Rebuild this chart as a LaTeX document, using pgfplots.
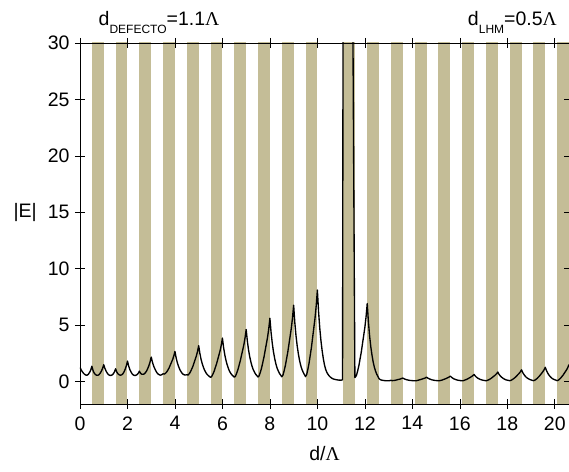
\documentclass[border=0pt]{standalone}
\usepackage{fontspec}
\setmainfont{Liberation Sans}
\newfontfamily\lgreek{Liberation Serif}
\usepackage{pgfplots}
\pgfplotsset{compat=1.18}
\definecolor{tanc}{HTML}{C4BD97}
\newcommand\bigf{\fontsize{19.5}{23}\selectfont}
\pgfplotstableread{
x y
0 1.25
0.05 1.02
0.1 0.86
0.15 0.72
0.2 0.62
0.25 0.56
0.3 0.56
0.35 0.63
0.4 0.79
0.45 0.99
0.5 1.35
0.55 0.96
0.6 0.74
0.65 0.61
0.7 0.55
0.75 0.55
0.8 0.60
0.85 0.73
0.9 0.91
0.95 1.15
1.0 1.48
1.05 1.15
1.1 0.91
1.15 0.73
1.2 0.60
1.25 0.54
1.3 0.53
1.35 0.57
1.4 0.67
1.45 0.84
1.5 1.12
1.55 0.84
1.6 0.67
1.65 0.59
1.7 0.55
1.75 0.58
1.8 0.66
1.85 0.83
1.9 1.06
1.95 1.37
2.0 1.8
2.05 1.37
2.1 1.06
2.15 0.83
2.2 0.66
2.25 0.57
2.3 0.53
2.35 0.54
2.4 0.60
2.45 0.71
2.5 0.91
2.55 0.73
2.6 0.64
2.65 0.63
2.7 0.66
2.75 0.76
2.8 0.91
2.85 1.13
2.9 1.38
2.95 1.72
3.0 2.16
3.05 1.72
3.1 1.38
3.15 1.13
3.2 0.91
3.25 0.75
3.3 0.64
3.35 0.58
3.4 0.56
3.45 0.60
3.5 0.68
3.55 0.65
3.6 0.72
3.65 0.83
3.7 1.0
3.75 1.19
3.8 1.43
3.85 1.68
3.9 1.93
3.95 2.25
4.0 2.66
4.05 2.09
4.1 1.67
4.15 1.34
4.2 1.08
4.25 0.88
4.3 0.73
4.35 0.63
4.4 0.58
4.45 0.57
4.5 0.60
4.55 0.56
4.6 0.68
4.65 0.84
4.7 1.07
4.75 1.31
4.8 1.62
4.85 1.94
4.9 2.25
4.95 2.65
5.0 3.17
5.05 2.48
5.1 1.96
5.15 1.56
5.2 1.25
5.25 0.99
5.3 0.79
5.35 0.64
5.4 0.53
5.45 0.44
5.5 0.36
5.55 0.44
5.6 0.65
5.65 0.90
5.7 1.22
5.75 1.54
5.8 1.93
5.85 2.32
5.9 2.71
5.95 3.20
6.0 3.84
6.05 2.99
6.1 2.35
6.15 1.86
6.2 1.47
6.25 1.15
6.3 0.90
6.35 0.72
6.4 0.58
6.45 0.48
6.5 0.37
6.55 0.47
6.6 0.73
6.65 1.03
6.7 1.42
6.75 1.81
6.8 2.28
6.85 2.75
6.9 3.22
6.95 3.83
7.0 4.6
7.05 3.57
7.1 2.79
7.15 2.19
7.2 1.72
7.25 1.33
7.3 1.03
7.35 0.82
7.4 0.64
7.45 0.52
7.5 0.39
7.55 0.51
7.6 0.83
7.65 1.20
7.7 1.68
7.75 2.16
7.8 2.74
7.85 3.32
7.9 3.90
7.95 4.65
8.0 5.6
8.05 4.33
8.1 3.37
8.15 2.63
8.2 2.05
8.25 1.57
8.3 1.20
8.35 0.94
8.4 0.72
8.45 0.57
8.5 0.41
8.55 0.56
8.6 0.95
8.65 1.40
8.7 1.98
8.75 2.56
8.8 3.27
8.85 3.98
8.9 4.69
8.95 5.59
9.0 6.75
9.05 5.20
9.1 4.04
9.15 3.14
9.2 2.43
9.25 1.85
9.3 1.40
9.35 1.07
9.4 0.82
9.45 0.62
9.5 0.43
9.55 0.61
9.6 1.08
9.65 1.63
9.7 2.33
9.75 3.03
9.8 3.89
9.85 4.75
9.9 5.60
9.95 6.70
10.0 8.1
10.05 6.18
10.1 4.74
10.15 3.62
10.2 2.74
10.25 2.02
10.3 1.46
10.35 1.06
10.4 0.80
10.45 0.62
10.5 0.48
10.55 0.38
10.6 0.30
10.65 0.24
10.7 0.20
10.8 0.15
10.9 0.12
11.0 0.11
11.06 0.15
11.1 60
11.2 80
11.3 90
11.4 80
11.5 30
11.58 0.35
11.6 0.38
11.65 0.56
11.7 0.96
11.75 1.42
11.8 2.02
11.85 2.61
11.9 3.34
11.95 4.06
12.0 4.79
12.05 5.71
12.1 6.9
12.15 5.27
12.2 4.04
12.25 3.09
12.3 2.34
12.35 1.73
12.4 1.26
12.45 0.92
12.5 0.64
12.55 0.44
12.6 0.24
12.65 0.16
12.7 0.12
12.8 0.08
12.9 0.06
13.0 0.06
13.05 0.07
13.1 0.10
13.15 0.07
13.2 0.08
13.25 0.09
13.3 0.11
13.35 0.14
13.4 0.17
13.45 0.19
13.5 0.22
13.55 0.26
13.6 0.30
13.65 0.24
13.7 0.195
13.75 0.16
13.8 0.13
13.85 0.11
13.9 0.09
13.95 0.08
14.0 0.07
14.05 0.06
14.1 0.055
14.15 0.06
14.2 0.08
14.25 0.11
14.3 0.14
14.35 0.17
14.4 0.20
14.45 0.24
14.5 0.27
14.55 0.32
14.6 0.38
14.65 0.30
14.7 0.24
14.75 0.20
14.8 0.16
14.85 0.13
14.9 0.11
14.95 0.09
15.0 0.08
15.05 0.07
15.1 0.06
15.15 0.07
15.2 0.09
15.25 0.12
15.3 0.16
15.35 0.20
15.4 0.24
15.45 0.29
15.5 0.34
15.55 0.39
15.6 0.47
15.65 0.37
15.7 0.29
15.75 0.23
15.8 0.19
15.85 0.15
15.9 0.12
15.95 0.10
16.0 0.08
16.05 0.07
16.1 0.06
16.15 0.07
16.2 0.11
16.25 0.15
16.3 0.20
16.35 0.25
16.4 0.31
16.45 0.37
16.5 0.44
16.55 0.52
16.6 0.62
16.65 0.48
16.7 0.38
16.75 0.30
16.8 0.24
16.85 0.19
16.9 0.15
16.95 0.12
17.0 0.10
17.05 0.08
17.1 0.06
17.15 0.08
17.2 0.13
17.25 0.18
17.3 0.25
17.35 0.32
17.4 0.41
17.45 0.49
17.5 0.58
17.55 0.69
17.6 0.83
17.65 0.64
17.7 0.50
17.75 0.39
17.8 0.31
17.85 0.24
17.9 0.18
17.95 0.14
18.0 0.11
18.05 0.09
18.1 0.07
18.15 0.09
18.2 0.15
18.25 0.22
18.3 0.30
18.35 0.39
18.4 0.50
18.45 0.61
18.5 0.72
18.55 0.85
18.6 1.03
18.65 0.79
18.7 0.62
18.75 0.48
18.8 0.37
18.85 0.29
18.9 0.22
18.95 0.17
19.0 0.13
19.05 0.10
19.1 0.07
19.15 0.10
19.2 0.17
19.25 0.25
19.3 0.36
19.35 0.47
19.4 0.60
19.45 0.73
19.5 0.87
19.55 1.03
19.6 1.25
19.65 0.96
19.7 0.75
19.75 0.58
19.8 0.45
19.85 0.34
19.9 0.25
19.95 0.19
20.0 0.15
20.05 0.11
20.1 0.07
20.15 0.11
20.2 0.20
20.25 0.30
20.3 0.43
20.35 0.56
20.4 0.72
20.45 0.88
20.5 1.04
20.55 1.24
20.6 1.5
}\fieldtable
\begin{document}
\begin{tikzpicture}
\begin{axis}[
  name=ax, at={(0,0)}, anchor=south west,
  scale only axis, width=489pt, height=361pt,
  xmin=0, xmax=20.6, ymin=-2, ymax=30,
  xtick={0,2,4,6,8,10,12,14,16,18,20},
  ytick={0,5,10,15,20,25,30},
  minor tick num=0,
  tick align=center,
  major tick length=10pt,
  tick style={black, line width=0.6pt},
  axis line style={black, line width=0.8pt},
  axis on top,
  /pgf/number format/assume math mode=true,
  ticklabel style={font=\bigf},
  xticklabel style={yshift=-4pt},
  yticklabel style={xshift=-2pt},
]
\addplot[draw=none, fill=tanc] coordinates {(0.5,-3) (1,-3) (1,31) (0.5,31)};
\addplot[draw=none, fill=tanc] coordinates {(1.5,-3) (2,-3) (2,31) (1.5,31)};
\addplot[draw=none, fill=tanc] coordinates {(2.5,-3) (3,-3) (3,31) (2.5,31)};
\addplot[draw=none, fill=tanc] coordinates {(3.5,-3) (4,-3) (4,31) (3.5,31)};
\addplot[draw=none, fill=tanc] coordinates {(4.5,-3) (5,-3) (5,31) (4.5,31)};
\addplot[draw=none, fill=tanc] coordinates {(5.5,-3) (6,-3) (6,31) (5.5,31)};
\addplot[draw=none, fill=tanc] coordinates {(6.5,-3) (7,-3) (7,31) (6.5,31)};
\addplot[draw=none, fill=tanc] coordinates {(7.5,-3) (8,-3) (8,31) (7.5,31)};
\addplot[draw=none, fill=tanc] coordinates {(8.5,-3) (9,-3) (9,31) (8.5,31)};
\addplot[draw=none, fill=tanc] coordinates {(9.5,-3) (10,-3) (10,31) (9.5,31)};
\addplot[draw=none, fill=tanc] coordinates {(11.1,-3) (11.6,-3) (11.6,31) (11.1,31)};
\addplot[draw=none, fill=tanc] coordinates {(12.1,-3) (12.6,-3) (12.6,31) (12.1,31)};
\addplot[draw=none, fill=tanc] coordinates {(13.1,-3) (13.6,-3) (13.6,31) (13.1,31)};
\addplot[draw=none, fill=tanc] coordinates {(14.1,-3) (14.6,-3) (14.6,31) (14.1,31)};
\addplot[draw=none, fill=tanc] coordinates {(15.1,-3) (15.6,-3) (15.6,31) (15.1,31)};
\addplot[draw=none, fill=tanc] coordinates {(16.1,-3) (16.6,-3) (16.6,31) (16.1,31)};
\addplot[draw=none, fill=tanc] coordinates {(17.1,-3) (17.6,-3) (17.6,31) (17.1,31)};
\addplot[draw=none, fill=tanc] coordinates {(18.1,-3) (18.6,-3) (18.6,31) (18.1,31)};
\addplot[draw=none, fill=tanc] coordinates {(19.1,-3) (19.6,-3) (19.6,31) (19.1,31)};
\addplot[draw=none, fill=tanc] coordinates {(20.1,-3) (20.6,-3) (20.6,31) (20.1,31)};
\addplot[black, line width=1.35pt, line join=round] table[x=x, y=y] {\fieldtable};
\coordinate (y15) at (rel axis cs:0,0.53125);
\end{axis}
\node[anchor=east, font=\bigf, inner sep=0pt] at ([xshift=-43pt]y15) {|E|};
\node[anchor=base, font=\bigf, inner sep=0pt] at ([yshift=-57pt]ax.south) {d/{\lgreek Λ}};
\node[anchor=base west, font=\bigf, inner sep=0pt] at ([xshift=18.5pt, yshift=17.5pt]ax.north west)
  {d\raisebox{-8.5pt}{\fontsize{12}{12}\selectfont DEFECTO}=1.1{\lgreek Λ}};
\node[anchor=base east, font=\bigf, inner sep=0pt] at ([xshift=-12pt, yshift=17.5pt]ax.north east)
  {d\raisebox{-8.5pt}{\fontsize{12}{12}\selectfont LHM}=0.5{\lgreek Λ}};
\pgfresetboundingbox
\useasboundingbox ([xshift=-80pt,yshift=-68pt]ax.south west) rectangle ([yshift=43pt]ax.north east);
\end{tikzpicture}
\end{document}
